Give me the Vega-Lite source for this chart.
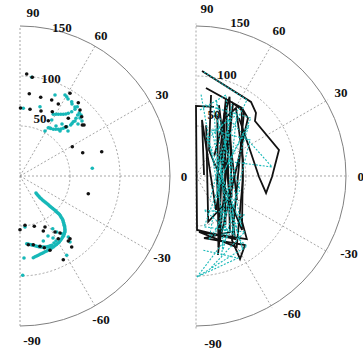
{
  "$schema": "https://vega.github.io/schema/vega-lite/v6.json",
  "padding": {"left": 18, "top": 0, "right": 0, "bottom": 0},
  "spacing": 0,
  "config": {"view": {"stroke": null}},
  "hconcat": [
    {
      "width": 172,
      "height": 354,
      "layer": [
        {
          "data": {"values": [{"cx": 0, "cy": 0, "r": 50}, {"cx": 0, "cy": 0, "r": 100}]},
          "mark": {"type": "point", "shape": "circle", "filled": false, "clip": true, "stroke": "#8f8f8f", "strokeWidth": 0.8, "strokeDash": [2, 2], "opacity": 1},
          "encoding": {
            "x": {"field": "cx", "type": "quantitative", "scale": {"domain": [0, 172], "nice": false, "zero": false}, "axis": null},
            "y": {"field": "cy", "type": "quantitative", "scale": {"domain": [-178, 176], "nice": false, "zero": false}, "axis": null},
            "size": {"field": "r", "type": "quantitative", "scale": {"type": "pow", "exponent": 2, "domain": [0, 150], "range": [0, 90000]}, "legend": null}
          }
        },
        {
          "data": {"values": [{"cx": 0, "cy": 0, "r": 150}]},
          "mark": {"type": "point", "shape": "circle", "filled": false, "clip": true, "stroke": "#808080", "strokeWidth": 1, "opacity": 1},
          "encoding": {
            "x": {"field": "cx", "type": "quantitative"},
            "y": {"field": "cy", "type": "quantitative"},
            "size": {"field": "r", "type": "quantitative", "legend": null}
          }
        },
        {
          "data": {"values": [
            {"x": 0, "y": -150, "x2": 0, "y2": 150},
            {"x": 0, "y": 0, "x2": 150, "y2": 0}, {"x": 0, "y": 0, "x2": 129.9, "y2": 75}, {"x": 0, "y": 0, "x2": 75, "y2": 129.9},
            {"x": 0, "y": 0, "x2": 129.9, "y2": -75}, {"x": 0, "y": 0, "x2": 75, "y2": -129.9}
          ]},
          "mark": {"type": "rule", "stroke": "#8f8f8f", "strokeWidth": 0.8, "strokeDash": [2, 2]},
          "encoding": {
            "x": {"field": "x", "type": "quantitative"},
            "y": {"field": "y", "type": "quantitative"},
            "x2": {"field": "x2"},
            "y2": {"field": "y2"}
          }
        },
        {
          "data": {"values": [
            {"s": "c", "x": 11.7, "y": 98.7}, {"s": "c", "x": 35, "y": 81}, {"s": "c", "x": 46.7, "y": 79.3}, {"s": "c", "x": 51.7, "y": 74.3},
            {"s": "c", "x": 20, "y": 69.3}, {"s": "c", "x": 3.3, "y": 67.7}, {"s": "c", "x": 33.3, "y": 61.7}, {"s": "c", "x": 38.3, "y": 61.7},
            {"s": "c", "x": 43.3, "y": 61.7}, {"s": "c", "x": 48.3, "y": 62.7}, {"s": "c", "x": 51.7, "y": 64.3}, {"s": "c", "x": 55, "y": 66.7},
            {"s": "c", "x": 57.3, "y": 69.3}, {"s": "c", "x": 28.3, "y": 48.3}, {"s": "c", "x": 33.3, "y": 46.7}, {"s": "c", "x": 38.3, "y": 46.7},
            {"s": "c", "x": 43.3, "y": 47.7}, {"s": "c", "x": 46.7, "y": 49.3}, {"s": "c", "x": 50.7, "y": 51}, {"s": "c", "x": 53.3, "y": 54.3},
            {"s": "c", "x": 56, "y": 57.7}, {"s": "c", "x": 57.7, "y": 61}, {"s": "c", "x": 59.3, "y": 63.3}, {"s": "c", "x": 31.7, "y": 56},
            {"s": "c", "x": 72.3, "y": 7.7}, {"s": "c", "x": 45, "y": 81}, {"s": "c", "x": 48, "y": 77}, {"s": "c", "x": 52, "y": 72},
            {"s": "c", "x": 55, "y": 69}, {"s": "c", "x": 42, "y": 52}, {"s": "c", "x": 55, "y": 55}, {"s": "c", "x": 60, "y": 58},
            {"s": "c", "x": 58, "y": 52}, {"s": "c", "x": 62, "y": 55}, {"s": "c", "x": 36, "y": 50}, {"s": "c", "x": 40, "y": 45},
            {"s": "c", "x": 30, "y": 48}, {"s": "c", "x": 25, "y": 45}, {"s": "c", "x": 48, "y": 45}, {"s": "c", "x": 61, "y": 61},
            {"s": "c", "x": 35.8, "y": 61.7}, {"s": "c", "x": 40.8, "y": 61.7}, {"s": "c", "x": 45.8, "y": 62}, {"s": "c", "x": 30.8, "y": 47.5},
            {"s": "c", "x": 35.8, "y": 46.7}, {"s": "c", "x": 41, "y": 47}, {"s": "c", "x": 45, "y": 48.5}, {"s": "c", "x": 52, "y": 52.5},
            {"s": "c", "x": 16, "y": -17}, {"s": "c", "x": 18, "y": -19.5}, {"s": "c", "x": 20, "y": -21.7}, {"s": "c", "x": 22.5, "y": -24},
            {"s": "c", "x": 25, "y": -26}, {"s": "c", "x": 27.5, "y": -28}, {"s": "c", "x": 30, "y": -30.3}, {"s": "c", "x": 32.5, "y": -32.3},
            {"s": "c", "x": 35, "y": -34.3}, {"s": "c", "x": 37, "y": -36.3}, {"s": "c", "x": 39.3, "y": -38.3}, {"s": "c", "x": 41, "y": -41},
            {"s": "c", "x": 42.7, "y": -43.7}, {"s": "c", "x": 43.5, "y": -46.5}, {"s": "c", "x": 44.3, "y": -49.3}, {"s": "c", "x": 44.8, "y": -52},
            {"s": "c", "x": 45, "y": -55}, {"s": "c", "x": 44.3, "y": -57.7}, {"s": "c", "x": 43.3, "y": -60.3}, {"s": "c", "x": 41.5, "y": -63},
            {"s": "c", "x": 39.3, "y": -66}, {"s": "c", "x": 36.5, "y": -68.5}, {"s": "c", "x": 33.3, "y": -71}, {"s": "c", "x": 30, "y": -73},
            {"s": "c", "x": 26.7, "y": -75}, {"s": "c", "x": 23.3, "y": -76.7}, {"s": "c", "x": 20, "y": -78.3}, {"s": "c", "x": 16.7, "y": -80},
            {"s": "c", "x": 13.3, "y": -81.7}, {"s": "c", "x": 17, "y": -18.2}, {"s": "c", "x": 19, "y": -20.6}, {"s": "c", "x": 21.2, "y": -22.8},
            {"s": "c", "x": 23.7, "y": -25}, {"s": "c", "x": 26.2, "y": -27}, {"s": "c", "x": 28.7, "y": -29.1}, {"s": "c", "x": 31.2, "y": -31.3},
            {"s": "c", "x": 33.7, "y": -33.3}, {"s": "c", "x": 36, "y": -35.3}, {"s": "c", "x": 38.2, "y": -37.3}, {"s": "c", "x": 40.2, "y": -39.6},
            {"s": "c", "x": 41.9, "y": -42.3}, {"s": "c", "x": 43.1, "y": -45.1}, {"s": "c", "x": 43.9, "y": -47.9}, {"s": "c", "x": 44.6, "y": -50.6},
            {"s": "c", "x": 44.9, "y": -53.5}, {"s": "c", "x": 44.7, "y": -56.3}, {"s": "c", "x": 43.8, "y": -59}, {"s": "c", "x": 42.4, "y": -61.6},
            {"s": "c", "x": 40.4, "y": -64.5}, {"s": "c", "x": 37.9, "y": -67.2}, {"s": "c", "x": 34.9, "y": -69.8}, {"s": "c", "x": 31.7, "y": -72},
            {"s": "c", "x": 28.3, "y": -74}, {"s": "c", "x": 25, "y": -75.8}, {"s": "c", "x": 21.7, "y": -77.5}, {"s": "c", "x": 18.3, "y": -79.2},
            {"s": "c", "x": 15, "y": -80.8},
            {"s": "c", "x": 6.7, "y": -67.7}, {"s": "c", "x": 10, "y": -68.5}, {"s": "c", "x": 13.3, "y": -69.3},
            {"s": "c", "x": 16.7, "y": -70.2}, {"s": "c", "x": 20, "y": -71}, {"s": "c", "x": 23.3, "y": -71}, {"s": "c", "x": 26.7, "y": -71},
            {"s": "c", "x": 29.2, "y": -70.2}, {"s": "c", "x": 31.7, "y": -69.3}, {"s": "c", "x": 34, "y": -67}, {"s": "c", "x": 36, "y": -65},
            {"s": "c", "x": 8.3, "y": -68.1}, {"s": "c", "x": 11.7, "y": -68.9}, {"s": "c", "x": 15, "y": -69.8}, {"s": "c", "x": 18.3, "y": -70.6},
            {"s": "c", "x": 21.7, "y": -71}, {"s": "c", "x": 25, "y": -71}, {"s": "c", "x": 28, "y": -70.6}, {"s": "c", "x": 30.5, "y": -69.8},
            {"s": "c", "x": 32.7, "y": -52.7}, {"s": "c", "x": 36.7, "y": -56}, {"s": "c", "x": 41.7, "y": -57.7}, {"s": "c", "x": 48.3, "y": -61},
            {"s": "c", "x": 50, "y": -66}, {"s": "c", "x": 46.7, "y": -79.3}, {"s": "c", "x": 4, "y": -82}, {"s": "c", "x": 2.7, "y": -99.3},
            {"s": "c", "x": 23.3, "y": -65}, {"s": "c", "x": 5, "y": -51}, {"s": "c", "x": 28, "y": -60}, {"s": "c", "x": 33, "y": -62},
            {"s": "b", "x": 6.7, "y": 102}, {"s": "b", "x": 12.3, "y": 98.7}, {"s": "b", "x": 9.3, "y": 82.3}, {"s": "b", "x": 0.5, "y": 68},
            {"s": "b", "x": 10, "y": 66.7}, {"s": "b", "x": 20.7, "y": 78.7}, {"s": "b", "x": 31.7, "y": 76}, {"s": "b", "x": 38.3, "y": 72},
            {"s": "b", "x": 50, "y": 82.7}, {"s": "b", "x": 58.3, "y": 73.3}, {"s": "b", "x": 60, "y": 66}, {"s": "b", "x": 61.7, "y": 59.3},
            {"s": "b", "x": 62.3, "y": 51}, {"s": "b", "x": 32.3, "y": 64.3}, {"s": "b", "x": 28.3, "y": 55.3}, {"s": "b", "x": 21, "y": 65},
            {"s": "b", "x": 48.3, "y": 57.7}, {"s": "b", "x": 64, "y": 51}, {"s": "b", "x": 46, "y": 49.3}, {"s": "b", "x": 52.3, "y": 29.3},
            {"s": "b", "x": 62.7, "y": 23.3}, {"s": "b", "x": 81.7, "y": 24.3}, {"s": "b", "x": 68.3, "y": -17.7},
            {"s": "b", "x": 0, "y": -53.7}, {"s": "b", "x": 5, "y": -49.3}, {"s": "b", "x": 14.3, "y": -50.3}, {"s": "b", "x": 25, "y": -51},
            {"s": "b", "x": 23.3, "y": -55}, {"s": "b", "x": 35, "y": -56}, {"s": "b", "x": 40, "y": -57}, {"s": "b", "x": 38.3, "y": -62.7},
            {"s": "b", "x": 48.3, "y": -65}, {"s": "b", "x": 51.7, "y": -71}, {"s": "b", "x": 50, "y": -62.7}, {"s": "b", "x": 20, "y": -70.3},
            {"s": "b", "x": 8.3, "y": -68.7}, {"s": "b", "x": 13.3, "y": -68.7}, {"s": "b", "x": 43.3, "y": -83.7}, {"s": "b", "x": 24.3, "y": -71.7},
            {"s": "b", "x": 30, "y": -74.3}
          ]},
          "mark": {"type": "point", "filled": true, "shape": "circle", "size": 13, "opacity": 1},
          "encoding": {
            "x": {"field": "x", "type": "quantitative"},
            "y": {"field": "y", "type": "quantitative"},
            "color": {"field": "s", "type": "nominal", "scale": {"domain": ["b", "c"], "range": ["#111111", "#17b8b8"]}, "legend": null}
          }
        },
        {
          "data": {"values": [
            {"t": "90", "x": 13, "y": 163}, {"t": "60", "x": 81, "y": 140}, {"t": "30", "x": 142, "y": 81}, {"t": "0", "x": 164, "y": -1},
            {"t": "-30", "x": 142, "y": -82}, {"t": "-60", "x": 81, "y": -144}, {"t": "-90", "x": 12, "y": -165},
            {"t": "150", "x": 42, "y": 148}, {"t": "100", "x": 31, "y": 97}, {"t": "50", "x": 20, "y": 57}
          ]},
          "mark": {"type": "text", "font": "Liberation Serif", "fontWeight": "bold", "fontSize": 13, "color": "#111", "align": "center", "baseline": "middle"},
          "encoding": {
            "x": {"field": "x", "type": "quantitative"},
            "y": {"field": "y", "type": "quantitative"},
            "text": {"field": "t"}
          }
        }
      ]
    },
    {
      "width": 171,
      "height": 354,
      "layer": [
        {
          "data": {"values": [{"cx": 0, "cy": 0, "r": 50}, {"cx": 0, "cy": 0, "r": 100}]},
          "mark": {"type": "point", "shape": "circle", "filled": false, "clip": true, "stroke": "#8f8f8f", "strokeWidth": 0.8, "strokeDash": [2, 2], "opacity": 1},
          "encoding": {
            "x": {"field": "cx", "type": "quantitative", "scale": {"domain": [0, 168.19], "nice": false, "zero": false}, "axis": null},
            "y": {"field": "cy", "type": "quantitative", "scale": {"domain": [-175.08, 173.11], "nice": false, "zero": false}, "axis": null},
            "size": {"field": "r", "type": "quantitative", "scale": {"type": "pow", "exponent": 2, "domain": [0, 150], "range": [0, 93025]}, "legend": null}
          }
        },
        {
          "data": {"values": [{"cx": 0, "cy": 0, "r": 150}]},
          "mark": {"type": "point", "shape": "circle", "filled": false, "clip": true, "stroke": "#808080", "strokeWidth": 1, "opacity": 1},
          "encoding": {
            "x": {"field": "cx", "type": "quantitative"},
            "y": {"field": "cy", "type": "quantitative"},
            "size": {"field": "r", "type": "quantitative", "legend": null}
          }
        },
        {
          "data": {"values": [
            {"x": 0, "y": -150, "x2": 0, "y2": 150},
            {"x": 0, "y": 0, "x2": 150, "y2": 0}, {"x": 0, "y": 0, "x2": 129.9, "y2": 75}, {"x": 0, "y": 0, "x2": 75, "y2": 129.9},
            {"x": 0, "y": 0, "x2": 129.9, "y2": -75}, {"x": 0, "y": 0, "x2": 75, "y2": -129.9}
          ]},
          "mark": {"type": "rule", "stroke": "#8f8f8f", "strokeWidth": 0.8, "strokeDash": [2, 2]},
          "encoding": {
            "x": {"field": "x", "type": "quantitative"},
            "y": {"field": "y", "type": "quantitative"},
            "x2": {"field": "x2"},
            "y2": {"field": "y2"}
          }
        },
        {
          "data": {"values": [
            {"g": "b1", "i": 1, "x": 5.9, "y": 103.3}, {"g": "b1", "i": 2, "x": 54.1, "y": 72.8}, {"g": "b1", "i": 3, "x": 59, "y": 62},
            {"g": "b1", "i": 4, "x": 58, "y": 54.1}, {"g": "b1", "i": 5, "x": 81.6, "y": 25.6}, {"g": "b1", "i": 6, "x": 74.7, "y": -1},
            {"g": "b1", "i": 7, "x": 68.9, "y": -16.7}, {"g": "b1", "i": 8, "x": 62, "y": -1}, {"g": "b1", "i": 9, "x": 53.1, "y": 25.6},
            {"g": "b1", "i": 10, "x": 42.3, "y": 57},
            {"g": "b2", "i": 1, "x": 17.7, "y": 67.9}, {"g": "b2", "i": 2, "x": 0, "y": 68.9}, {"g": "b2", "i": 3, "x": 1, "y": -53.1},
            {"g": "b2", "i": 4, "x": 38.4, "y": -62}, {"g": "b2", "i": 5, "x": 22.6, "y": 69.8},
            {"g": "b3", "i": 1, "x": 9.8, "y": 86.6}, {"g": "b3", "i": 2, "x": 45.2, "y": 66.9}, {"g": "b3", "i": 3, "x": 51.1, "y": 57},
            {"g": "b3", "i": 4, "x": 23.6, "y": -63}, {"g": "b3", "i": 5, "x": 20.7, "y": -3.9}, {"g": "b3", "i": 6, "x": 29.5, "y": 76.7},
            {"g": "b3", "i": 7, "x": 33.4, "y": -55.1}, {"g": "b3", "i": 8, "x": 7.9, "y": -61}, {"g": "b3", "i": 9, "x": 48.2, "y": -67.9},
            {"g": "b3", "i": 10, "x": 43.3, "y": -81.6}, {"g": "b3", "i": 11, "x": 35.4, "y": -63}, {"g": "b3", "i": 12, "x": 47.2, "y": 63},
            {"g": "b3", "i": 13, "x": 36.4, "y": 71.8}, {"g": "b3", "i": 14, "x": 21.6, "y": -77.7},
            {"g": "b4", "i": 1, "x": 27.5, "y": 56.1}, {"g": "b4", "i": 2, "x": 39.3, "y": 66.9}, {"g": "b4", "i": 3, "x": 46.2, "y": 15.7},
            {"g": "b4", "i": 4, "x": 45.2, "y": -53.1}, {"g": "b4", "i": 5, "x": 12.8, "y": 25.6}, {"g": "b4", "i": 6, "x": 14.8, "y": 79.7},
            {"g": "b5", "i": 1, "x": 7.9, "y": 1}, {"g": "b5", "i": 2, "x": 5.9, "y": 55.1}, {"g": "b5", "i": 3, "x": 19.7, "y": -33.4},
            {"g": "b5", "i": 4, "x": 32.5, "y": 45.2}, {"g": "b5", "i": 5, "x": 40.3, "y": -23.6},
            {"g": "b6", "i": 1, "x": 21, "y": 60}, {"g": "b6", "i": 2, "x": 22, "y": -70}, {"g": "b6", "i": 3, "x": 28, "y": 62},
            {"g": "b6", "i": 4, "x": 29, "y": -48}, {"g": "b6", "i": 5, "x": 24, "y": 30},
            {"g": "b7", "i": 1, "x": 45, "y": 65}, {"g": "b7", "i": 2, "x": 46, "y": -5}, {"g": "b7", "i": 3, "x": 40, "y": -70},
            {"g": "b7", "i": 4, "x": 3, "y": -55}, {"g": "b7", "i": 5, "x": 50, "y": -62}, {"g": "b7", "i": 6, "x": 44, "y": -40},
            {"g": "b8", "i": 1, "x": 10, "y": 50}, {"g": "b8", "i": 2, "x": 12, "y": -45}, {"g": "b8", "i": 3, "x": 35, "y": -20},
            {"g": "b8", "i": 4, "x": 33, "y": 78}, {"g": "b8", "i": 5, "x": 18, "y": 20}
          ]},
          "mark": {"type": "line", "stroke": "#111111", "strokeWidth": 1.8, "strokeJoin": "miter"},
          "encoding": {
            "x": {"field": "x", "type": "quantitative"},
            "y": {"field": "y", "type": "quantitative"},
            "detail": {"field": "g"},
            "order": {"field": "i"}
          }
        },
        {
          "data": {"values": [
            {"g": "c1", "i": 1, "x": 7.9, "y": 102.3}, {"g": "c1", "i": 2, "x": 50.2, "y": 74.8}, {"g": "c1", "i": 3, "x": 20.7, "y": 15.7},
            {"g": "c1", "i": 4, "x": 74.8, "y": 8.9}, {"g": "c1", "i": 5, "x": 33.4, "y": 55.1}, {"g": "c1", "i": 6, "x": 13.8, "y": -23.6},
            {"g": "c2", "i": 1, "x": 1, "y": -99.3}, {"g": "c2", "i": 2, "x": 50.2, "y": -68.9}, {"g": "c2", "i": 3, "x": 7.9, "y": -33.4},
            {"g": "c2", "i": 4, "x": 47.2, "y": -38.4}, {"g": "c2", "i": 5, "x": 1, "y": -99.3}, {"g": "c2", "i": 6, "x": 41.3, "y": -80.7},
            {"g": "c2", "i": 7, "x": 5.9, "y": -72.8},
            {"g": "c3", "i": 1, "x": 3.9, "y": 64.9}, {"g": "c3", "i": 2, "x": 29.5, "y": 79.7}, {"g": "c3", "i": 3, "x": 37.4, "y": -58},
            {"g": "c3", "i": 4, "x": 15.7, "y": 45.2}, {"g": "c3", "i": 5, "x": 53.1, "y": 35.4}, {"g": "c3", "i": 6, "x": 26.6, "y": -72.8},
            {"g": "c3", "i": 7, "x": 17.7, "y": 64.9}, {"g": "c3", "i": 8, "x": 43.3, "y": -13.8}, {"g": "c3", "i": 9, "x": 12.8, "y": -63},
            {"g": "c3", "i": 10, "x": 35.4, "y": 70.8}, {"g": "c3", "i": 11, "x": 21.6, "y": -21.6},
            {"g": "c4", "i": 1, "x": 8.9, "y": 69.8}, {"g": "c4", "i": 2, "x": 54.1, "y": 57}, {"g": "c4", "i": 3, "x": 25.6, "y": 1},
            {"g": "c4", "i": 4, "x": 46.2, "y": -72.8}, {"g": "c4", "i": 5, "x": 10.8, "y": 35.4}, {"g": "c4", "i": 6, "x": 43.3, "y": 66.9},
            {"g": "c5", "i": 1, "x": 5, "y": 80}, {"g": "c5", "i": 2, "x": 30, "y": -60}, {"g": "c5", "i": 3, "x": 20, "y": 75},
            {"g": "c5", "i": 4, "x": 45, "y": -50}, {"g": "c5", "i": 5, "x": 10, "y": 40}, {"g": "c5", "i": 6, "x": 40, "y": 60},
            {"g": "c5", "i": 7, "x": 25, "y": -80},
            {"g": "c6", "i": 1, "x": 15, "y": -90}, {"g": "c6", "i": 2, "x": 48, "y": -55}, {"g": "c6", "i": 3, "x": 8, "y": -50},
            {"g": "c6", "i": 4, "x": 30, "y": 10}, {"g": "c6", "i": 5, "x": 52, "y": 50}, {"g": "c6", "i": 6, "x": 18, "y": -60}
          ]},
          "mark": {"type": "line", "stroke": "#17b8b8", "strokeWidth": 1.1, "strokeDash": [2, 1.5]},
          "encoding": {
            "x": {"field": "x", "type": "quantitative"},
            "y": {"field": "y", "type": "quantitative"},
            "detail": {"field": "g"},
            "order": {"field": "i"}
          }
        },
        {
          "data": {"values": [
            {"t": "90", "x": 10.8, "y": 164.3}, {"t": "60", "x": 81.6, "y": 142.6}, {"t": "30", "x": 142.6, "y": 81.6}, {"t": "0", "x": 162, "y": -1},
            {"t": "-30", "x": 150.5, "y": -76.7}, {"t": "-60", "x": 94.4, "y": -135.7}, {"t": "-90", "x": 16.7, "y": -165.2},
            {"t": "150", "x": 43.3, "y": 150.5}, {"t": "100", "x": 30.5, "y": 99.3}, {"t": "50", "x": 17.7, "y": 60}
          ]},
          "mark": {"type": "text", "font": "Liberation Serif", "fontWeight": "bold", "fontSize": 13, "color": "#111", "align": "center", "baseline": "middle"},
          "encoding": {
            "x": {"field": "x", "type": "quantitative"},
            "y": {"field": "y", "type": "quantitative"},
            "text": {"field": "t"}
          }
        }
      ]
    }
  ]
}
